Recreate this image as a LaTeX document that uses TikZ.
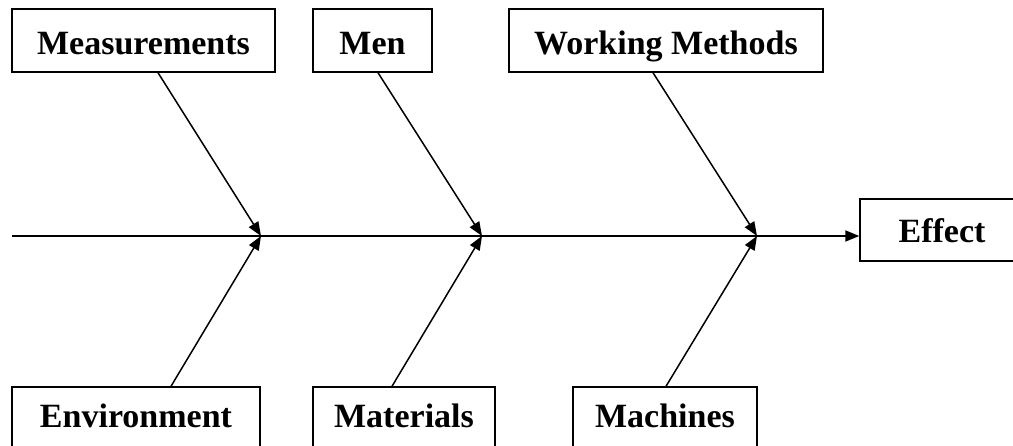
\documentclass[tikz,border=0pt]{standalone}
\usepackage{fontspec}
\setmainfont{Liberation Serif}
\usetikzlibrary{arrows.meta}
\begin{document}
\begin{tikzpicture}[x=1pt,y=-1pt,
  cause/.style={draw=black,line width=1.4pt,fill=white,inner sep=0pt,
    font=\fontsize{34}{38}\selectfont\bfseries,text=black},
  upper/.style={cause,minimum height=63pt,text height=31pt,text depth=2pt},
  lower/.style={cause,minimum height=66pt,text height=20pt,text depth=4pt},
  bone/.style={draw=black,line width=1.5pt,-{Triangle[length=14pt,width=11pt]}},
  spine/.style={draw=black,line width=1.8pt,-{Triangle[length=14pt,width=11pt]}}]
\useasboundingbox (0,0) rectangle (1013,446);
\begin{scope}
\clip (0,0) rectangle (1013,446);
% cause boxes above the spine
\node[upper,minimum width=263pt] (meas) at (143.5,40.5) {Measurements};
\node[upper,minimum width=119pt] (men) at (372.5,40.5) {Men};
\node[upper,minimum width=314pt] (work) at (666,40.5) {Working Methods};
% cause boxes below the spine
\node[lower,minimum width=248pt] (env) at (136,420) {Environment};
\node[lower,minimum width=182pt] (mat) at (404,420) {Materials};
\node[lower,minimum width=184pt] (mach) at (665,420) {Machines};
% effect box
\node[cause,minimum width=164pt,minimum height=62pt,text height=28pt,text depth=2pt] (effect) at (942,230) {Effect};
% spine and junctions
\coordinate (tail) at (12,236);
\coordinate (j1) at (261,236);
\coordinate (j2) at (482,236);
\coordinate (j3) at (757,236);
\draw[spine] (tail) -- (tail -| effect.west);
% bones
\draw[bone] ([xshift=14.5pt]meas.south) -- (j1);
\draw[bone] ([xshift=5.5pt]men.south) -- (j2);
\draw[bone] ([xshift=-13pt]work.south) -- (j3);
\draw[bone] ([xshift=35pt]env.north) -- (j1);
\draw[bone] ([xshift=-12pt]mat.north) -- (j2);
\draw[bone] ([xshift=1pt]mach.north) -- (j3);
\end{scope}
\end{tikzpicture}
\end{document}
